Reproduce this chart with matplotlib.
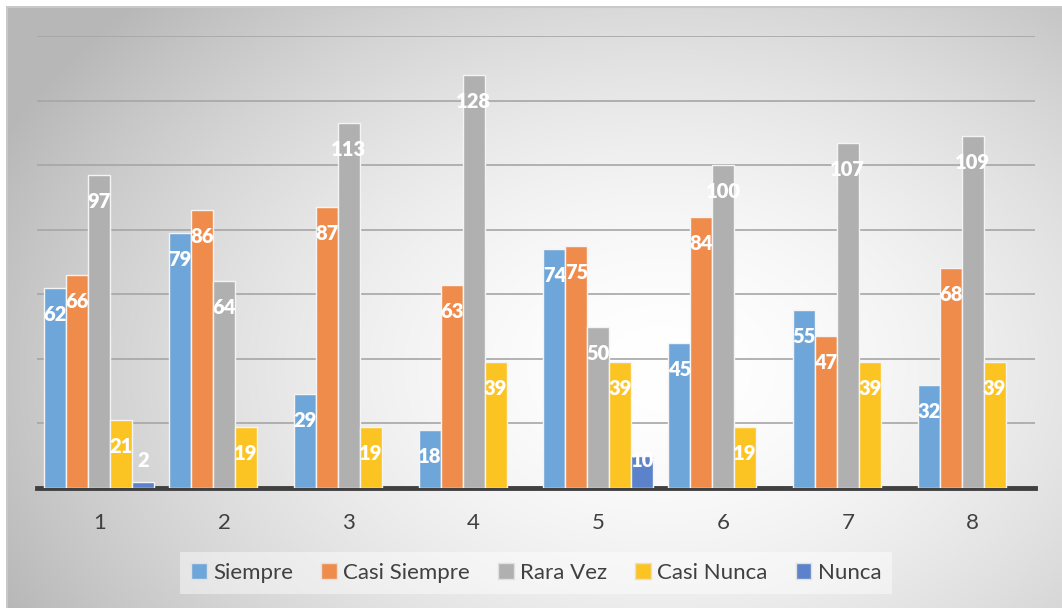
import numpy as np
import matplotlib
matplotlib.use("Agg")
import matplotlib.pyplot as plt
from matplotlib.patches import Patch

categories = ["1", "2", "3", "4", "5", "6", "7", "8"]
series_names = ["Siempre", "Casi Siempre", "Rara Vez", "Casi Nunca", "Nunca"]
siempre = [62, 79, 29, 18, 74, 45, 55, 32]
casi_siempre = [66, 86, 87, 63, 75, 84, 47, 68]
rara_vez = [97, 64, 113, 128, 50, 100, 107, 109]
casi_nunca = [21, 19, 19, 39, 39, 19, 39, 39]
nunca = [2, np.nan, np.nan, np.nan, 10, np.nan, np.nan, np.nan]
series_values = [siempre, casi_siempre, rara_vez, casi_nunca, nunca]
colors = ["#6FA6DA", "#EF8C4C", "#B0B0B0", "#FCC423", "#5B82CA"]

W, H = 1062, 608
fig = plt.figure(figsize=(W / 100, H / 100), dpi=100)
fig.patch.set_facecolor("white")

# background radial gradient (chart area)
bx0, by0 = 6 / W, 0.0
bg = fig.add_axes([bx0, by0, 1 - bx0, 1 - 6 / H])
ny, nx = 300, 520
yy, xx = np.mgrid[0:ny, 0:nx]
cx, cy = 0.62 * nx, 0.60 * ny
r = np.sqrt(((xx - cx) / (0.68 * nx)) ** 2 + ((yy - cy) / (0.85 * ny)) ** 2)
g = 1 - 0.27 * np.clip(r, 0, 1.2) ** 1.7
g = np.clip(g, 0.72, 1.0)
img = np.dstack([g, g, g])
bg.imshow(img, aspect="auto", extent=[0, 1, 0, 1], origin="upper")
bg.set_xlim(0, 1)
bg.set_ylim(0, 1)
bg.axis("off")
bg.plot([0, 1], [0.999, 0.999], color="#c8c8c8", lw=1.5)
bg.plot([0.001, 0.001], [0, 1], color="#c8c8c8", lw=1.5)

left, right = 37 / W, 1035 / W
bottom, top = 1 - 488 / H, 1 - 36 / H
ax = fig.add_axes([left, bottom, right - left, top - bottom])
ax.patch.set_alpha(0)
ax.set_xlim(-0.5, len(categories) - 0.5)
ax.set_ylim(0, 140)
ax.set_yticks(np.arange(0, 141, 20))
ax.yaxis.grid(True, color="#a6a6a6", lw=1.2)
ax.set_axisbelow(True)
ax.tick_params(axis="y", length=0, labelleft=False)
ax.tick_params(axis="x", length=0, labelsize=16, labelcolor="#404040", pad=18)
for s in ["top", "right", "left"]:
    ax.spines[s].set_visible(False)
ax.spines["bottom"].set_color("#404040")
ax.spines["bottom"].set_linewidth(3.5)

x = np.arange(len(categories))
bw = 0.176
n = len(series_values)
handles = []
for i, (name, vals, c) in enumerate(zip(series_names, series_values, colors)):
    pos = x + (i - (n - 1) / 2) * bw
    v = np.array(vals, dtype=float)
    mask = ~np.isnan(v)
    ax.bar(pos[mask], v[mask], width=bw, color=c, edgecolor="#f4f4f4",
           linewidth=1.0, zorder=3)
    for p, val in zip(pos[mask], v[mask]):
        ly = max(val - 8.2, 8.5)
        ax.text(p, ly, f"{int(val)}", ha="center", va="center", color="white",
                fontsize=14.5, fontweight="heavy", family="Lato", zorder=5)
    handles.append(Patch(facecolor=c, edgecolor="#e0e0e0", label=name))

ax.set_xticks(x)
ax.set_xticklabels(categories, family="Lato")

leg = fig.legend(handles=handles, loc="center", bbox_to_anchor=(0.505, 1 - 573 / H),
                 ncol=5, frameon=True, prop={"family": "Lato", "size": 16},
                 handlelength=0.7, handleheight=0.7, handletextpad=0.3,
                 columnspacing=1.25, borderpad=0.5)
leg.get_frame().set_facecolor("white")
leg.get_frame().set_alpha(0.45)
leg.get_frame().set_edgecolor("none")
leg.get_frame().set_boxstyle("square", pad=0.0)
for t in leg.get_texts():
    t.set_color("#404040")

fig.savefig("out.png", dpi=100)
